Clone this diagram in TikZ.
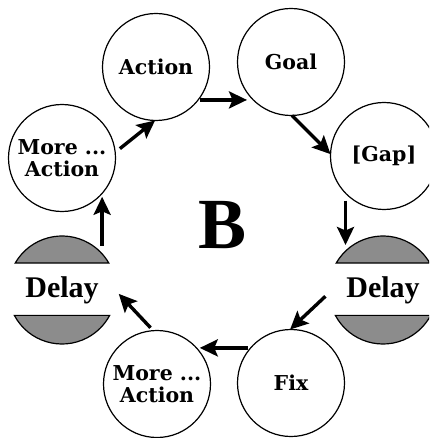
\documentclass[tikz,border=0pt]{standalone}
\usepackage{fontspec}
\usetikzlibrary{arrows.meta}
\newfontfamily\lblfont{DejaVu Serif}
\newfontfamily\delayfont{Liberation Serif}
\begin{document}
\begin{tikzpicture}[x=1pt,y=-1pt,
  bub/.style={circle,draw,line width=1.2pt,minimum size=107pt,inner sep=0pt,outer sep=0pt,align=center,
    font=\lblfont\bfseries\fontsize{20.5}{22}\selectfont},
  dly/.style={circle,minimum size=108pt,inner sep=0pt,outer sep=0pt,
    font=\delayfont\bfseries\fontsize{30}{32}\selectfont},
  capfill/.style={draw,line width=1.2pt,fill=black!45},
  arr/.style={-{Stealth[length=18pt,width=17pt,inset=3.5pt]},line width=3.4pt}]
\useasboundingbox (0,0) rectangle (429,438);
\clip (0,0) rectangle (429,438);
\node[bub] (Action) at (156,67) {Action};
\node[bub] (Goal) at (291,62) {Goal};
\node[bub] (Gap) at (384,156) {[Gap]};
\node[dly] (DelayR) at (383,290) {Delay};
\node[bub] (Fix) at (291,383) {Fix};
\node[bub] (MoreL) at (157,384) {More ...\\Action};
\node[dly] (DelayL) at (62,290) {Delay};
\node[bub] (MoreU) at (62,158) {More ...\\Action};
\node[anchor=base,font=\delayfont\bfseries\fontsize{72}{72}\selectfont] (B) at (222.5,248) {B};
\foreach \d in {DelayL,DelayR}{
  \draw[capfill] (\d.150) arc[start angle=150,end angle=30,radius=54pt] -- cycle;
  \draw[capfill] (\d.-152) arc[start angle=-152,end angle=-28,radius=54pt] -- cycle;
}
\draw[arr,shorten <=6pt] (MoreU.6) -- (Action.-91);
\draw[arr,shorten <=1.5pt,shorten >=3pt] (Action.-38) -- (Action.-38 -| Goal.-140);
\draw[arr] (Goal.-89) -- (Gap.178);
\draw[arr,shorten <=7.5pt,shorten >=7.5pt] (Gap.-136) -- (Gap.-136 |- DelayR.136);
\draw[arr,shorten <=5pt] (DelayR.183) -- (Fix.91);
\draw[arr,shorten <=3pt,shorten >=3pt] (Fix.139) -- (Fix.139 -| MoreL.42);
\draw[arr,shorten <=4pt,shorten >=4pt] (MoreL.94) -- (DelayL.-1);
\draw[arr,shorten <=8pt,shorten >=3pt] (DelayL.42) -- (DelayL.42 |- MoreU.-42);
\end{tikzpicture}
\end{document}
